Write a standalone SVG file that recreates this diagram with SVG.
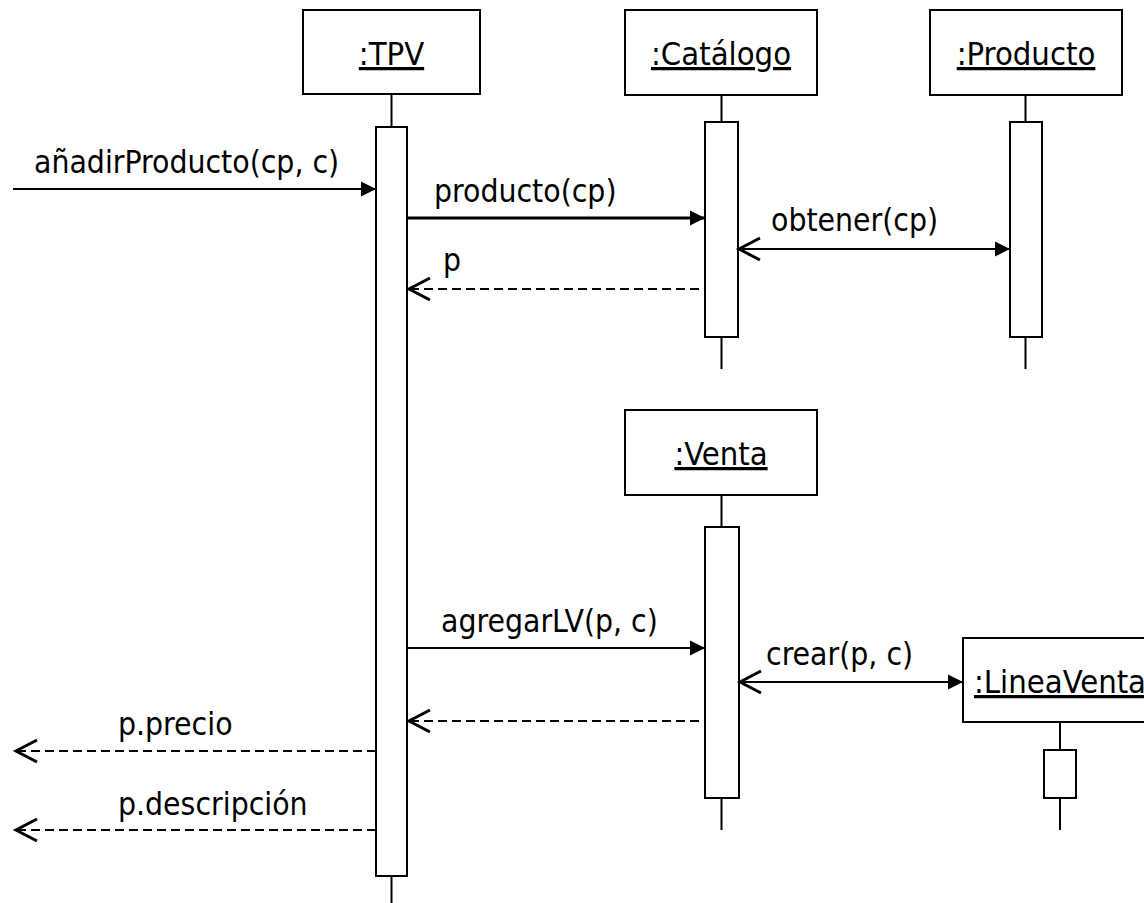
<svg xmlns="http://www.w3.org/2000/svg" width="1144" height="903" viewBox="0 0 1144 903">
  <style>
    .box { fill: #ffffff; stroke: #000000; stroke-width: 2; }
    .bar { fill: #ffffff; stroke: #000000; stroke-width: 2; }
    .life { stroke: #000000; stroke-width: 2; fill: none; }
    .name { font-family: "DejaVu Sans Condensed", "DejaVu Sans", sans-serif; font-stretch: condensed; font-size: 32.5px; fill: #000000; text-anchor: middle; text-decoration: underline; }
    .lbl { font-family: "DejaVu Sans Condensed", "DejaVu Sans", sans-serif; font-stretch: condensed; font-size: 31.6px; fill: #000000; }
    .msg { stroke: #000000; stroke-width: 2; fill: none; }
    .thick { stroke-width: 3; }
    .ret { stroke-dasharray: 9 5; }
  </style>
  <defs>
    <marker id="filled" markerUnits="userSpaceOnUse" markerWidth="16" markerHeight="16" refX="15" refY="7.5" orient="auto" overflow="visible">
      <path d="M0,0 L15,7.5 L0,15 Z" fill="#000000" stroke="none"/>
    </marker>
    <marker id="open" markerUnits="userSpaceOnUse" markerWidth="24" markerHeight="24" refX="21" refY="11" orient="auto-start-reverse" overflow="visible">
      <path d="M0,0 L21,11 L0,22" fill="none" stroke="#000000" stroke-width="3" stroke-dasharray="none"/>
    </marker>
  </defs>
  <rect width="1144" height="903" fill="#ffffff"/>

  <g id="tpv">
    <line class="life" x1="391.5" y1="94" x2="391.5" y2="903"/>
    <rect class="box" x="303" y="10" width="177" height="84"/>
    <text class="name" x="391.5" y="65">:TPV</text>
    <rect class="bar" x="376" y="127" width="31" height="749"/>
  </g>

  <g id="catalogo">
    <line class="life" x1="721.5" y1="95" x2="721.5" y2="369"/>
    <rect class="box" x="625" y="10" width="192" height="85"/>
    <text class="name" x="721" y="65">:Catálogo</text>
    <rect class="bar" x="705" y="122" width="33" height="215"/>
  </g>

  <g id="producto">
    <line class="life" x1="1025.5" y1="95" x2="1025.5" y2="369"/>
    <rect class="box" x="930" y="10" width="192" height="85"/>
    <text class="name" x="1026" y="65">:Producto</text>
    <rect class="bar" x="1010" y="122" width="32" height="215"/>
  </g>

  <g id="venta">
    <line class="life" x1="721.5" y1="495" x2="721.5" y2="830"/>
    <rect class="box" x="625" y="410" width="192" height="85"/>
    <text class="name" x="721" y="465">:Venta</text>
    <rect class="bar" x="705" y="527" width="34" height="271"/>
  </g>

  <g id="lineaventa">
    <line class="life" x1="1060" y1="722" x2="1060" y2="830"/>
    <rect class="box" x="963" y="638" width="194" height="84"/>
    <text class="name" x="1060" y="693">:LineaVenta</text>
    <rect class="bar" x="1044" y="750" width="32" height="48"/>
  </g>

  <g id="connectors">
    <line class="msg" x1="13" y1="189" x2="376" y2="189" marker-end="url(#filled)"/>
    <text class="lbl" x="34" y="172.5">añadirProducto(cp, c)</text>

    <line class="msg thick" x1="408" y1="218" x2="705" y2="218" marker-end="url(#filled)"/>
    <text class="lbl" x="434" y="201.5">producto(cp)</text>

    <line class="msg ret" x1="699" y1="289" x2="409" y2="289" marker-end="url(#open)"/>
    <text class="lbl" x="443" y="271">p</text>

    <line class="msg" x1="739" y1="249" x2="1010" y2="249" marker-start="url(#open)" marker-end="url(#filled)"/>
    <text class="lbl" x="771" y="230.5">obtener(cp)</text>

    <line class="msg" x1="408" y1="648" x2="705" y2="648" marker-end="url(#filled)"/>
    <text class="lbl" x="441" y="631.5">agregarLV(p, c)</text>

    <line class="msg" x1="740" y1="682" x2="963" y2="682" marker-start="url(#open)" marker-end="url(#filled)"/>
    <text class="lbl" x="766" y="665">crear(p, c)</text>

    <line class="msg ret" x1="699" y1="721" x2="409" y2="721" marker-end="url(#open)"/>

    <line class="msg ret" x1="376" y1="751" x2="16" y2="751" marker-end="url(#open)"/>
    <text class="lbl" x="118" y="735">p.precio</text>

    <line class="msg ret" x1="376" y1="830" x2="16" y2="830" marker-end="url(#open)"/>
    <text class="lbl" x="118" y="815">p.descripción</text>
  </g>
</svg>
